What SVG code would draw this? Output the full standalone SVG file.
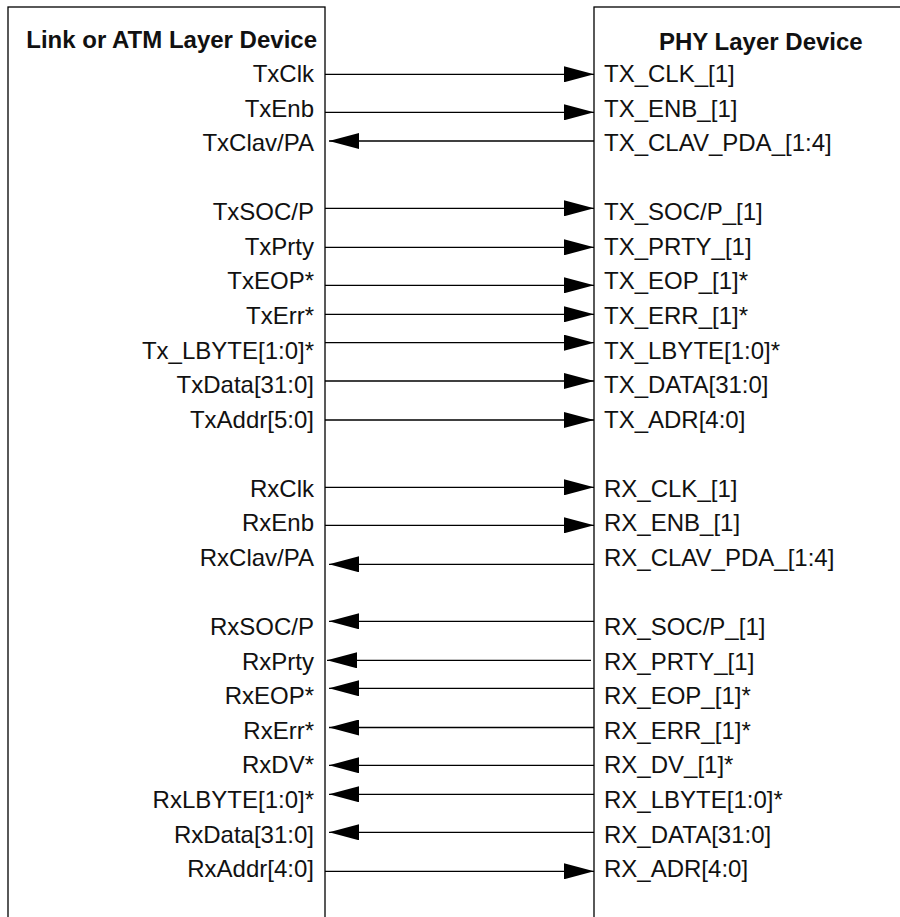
<svg xmlns="http://www.w3.org/2000/svg" width="900" height="917" viewBox="0 0 900 917">
<style>
.box{fill:#fff;stroke:#000;stroke-width:1.3}
.t{font-family:"Liberation Sans",Arial,sans-serif;font-size:24px;fill:#111}
.l{text-anchor:end}
.h{font-weight:bold}
.c{stroke:#000;stroke-width:1.3;fill:none;marker-end:url(#ah)}
</style>
<defs>
<marker id="ah" markerWidth="30" markerHeight="16" refX="30" refY="8" orient="auto" markerUnits="userSpaceOnUse">
<path d="M0,0 L30,8 L0,16 z" fill="#000"/>
</marker>
</defs>
<rect width="900" height="917" fill="#fff"/>
<g id="link-device">
<rect class="box" x="8" y="7" width="317" height="930"/>
<text class="t h l" x="317" y="48">Link or ATM Layer Device</text>
<text class="t l" x="314" y="82">TxClk</text>
<text class="t l" x="314" y="116.6">TxEnb</text>
<text class="t l" x="314" y="151.1">TxClav/PA</text>
<text class="t l" x="314" y="220.3">TxSOC/P</text>
<text class="t l" x="314" y="254.8">TxPrty</text>
<text class="t l" x="314" y="289.4">TxEOP*</text>
<text class="t l" x="314" y="324">TxErr*</text>
<text class="t l" x="314" y="358.6">Tx_LBYTE[1:0]*</text>
<text class="t l" x="314" y="393.1">TxData[31:0]</text>
<text class="t l" x="314" y="427.7">TxAddr[5:0]</text>
<text class="t l" x="314" y="496.8">RxClk</text>
<text class="t l" x="314" y="531.4">RxEnb</text>
<text class="t l" x="314" y="566">RxClav/PA</text>
<text class="t l" x="314" y="635.1">RxSOC/P</text>
<text class="t l" x="314" y="669.7">RxPrty</text>
<text class="t l" x="314" y="704.2">RxEOP*</text>
<text class="t l" x="314" y="738.8">RxErr*</text>
<text class="t l" x="314" y="773.4">RxDV*</text>
<text class="t l" x="314" y="808">RxLBYTE[1:0]*</text>
<text class="t l" x="314" y="842.5">RxData[31:0]</text>
<text class="t l" x="314" y="877">RxAddr[4:0]</text>
</g>
<g id="phy-device">
<rect class="box" x="594" y="7" width="330" height="930"/>
<text class="t h" x="659" y="50">PHY Layer Device</text>
<text class="t" x="604" y="82">TX_CLK_[1]</text>
<text class="t" x="604" y="116.6">TX_ENB_[1]</text>
<text class="t" x="604" y="151.1">TX_CLAV_PDA_[1:4]</text>
<text class="t" x="604" y="220.3">TX_SOC/P_[1]</text>
<text class="t" x="604" y="254.8">TX_PRTY_[1]</text>
<text class="t" x="604" y="289.4">TX_EOP_[1]*</text>
<text class="t" x="604" y="324">TX_ERR_[1]*</text>
<text class="t" x="604" y="358.6">TX_LBYTE[1:0]*</text>
<text class="t" x="604" y="393.1">TX_DATA[31:0]</text>
<text class="t" x="604" y="427.7">TX_ADR[4:0]</text>
<text class="t" x="604" y="496.8">RX_CLK_[1]</text>
<text class="t" x="604" y="531.4">RX_ENB_[1]</text>
<text class="t" x="604" y="566">RX_CLAV_PDA_[1:4]</text>
<text class="t" x="604" y="635.1">RX_SOC/P_[1]</text>
<text class="t" x="604" y="669.7">RX_PRTY_[1]</text>
<text class="t" x="604" y="704.2">RX_EOP_[1]*</text>
<text class="t" x="604" y="738.8">RX_ERR_[1]*</text>
<text class="t" x="604" y="773.4">RX_DV_[1]*</text>
<text class="t" x="604" y="808">RX_LBYTE[1:0]*</text>
<text class="t" x="604" y="842.5">RX_DATA[31:0]</text>
<text class="t" x="604" y="877">RX_ADR[4:0]</text>
</g>
<g id="connectors">
<line class="c" x1="325" y1="74.3" x2="594" y2="74.3"/>
<line class="c" x1="325" y1="112.3" x2="594" y2="112.3"/>
<line class="c" x1="594" y1="141" x2="329" y2="141"/>
<line class="c" x1="325" y1="208.3" x2="594" y2="208.3"/>
<line class="c" x1="325" y1="247.3" x2="594" y2="247.3"/>
<line class="c" x1="325" y1="285.3" x2="594" y2="285.3"/>
<line class="c" x1="325" y1="314.3" x2="594" y2="314.3"/>
<line class="c" x1="325" y1="342.7" x2="594" y2="342.7"/>
<line class="c" x1="325" y1="381" x2="594" y2="381"/>
<line class="c" x1="325" y1="420" x2="594" y2="420"/>
<line class="c" x1="325" y1="487.3" x2="594" y2="487.3"/>
<line class="c" x1="325" y1="525.3" x2="594" y2="525.3"/>
<line class="c" x1="594" y1="564.3" x2="329" y2="564.3"/>
<line class="c" x1="594" y1="621.3" x2="329" y2="621.3"/>
<line class="c" x1="591" y1="660.3" x2="327" y2="660.3"/>
<line class="c" x1="594" y1="688.3" x2="329" y2="688.3"/>
<line class="c" x1="594" y1="727.5" x2="329" y2="727.5"/>
<line class="c" x1="594" y1="765.3" x2="329" y2="765.3"/>
<line class="c" x1="594" y1="794.3" x2="329" y2="794.3"/>
<line class="c" x1="594" y1="832.3" x2="329" y2="832.3"/>
<line class="c" x1="325" y1="871.3" x2="594" y2="871.3"/>
</g>
</svg>
